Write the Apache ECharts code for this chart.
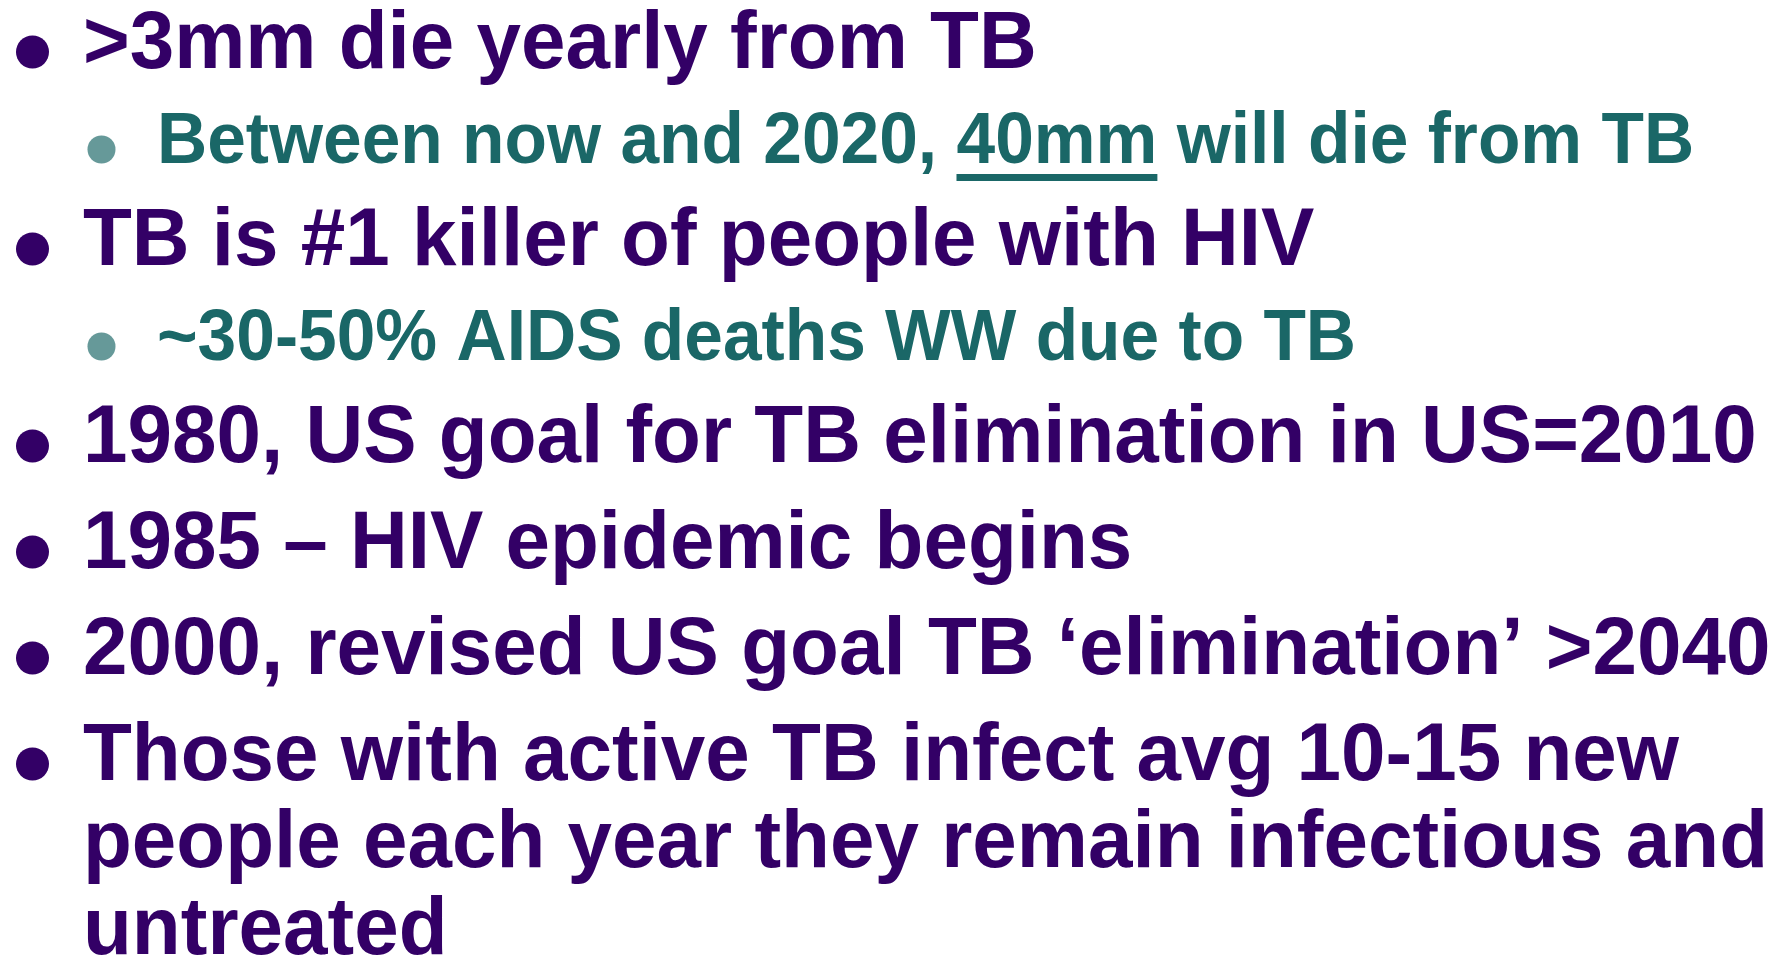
<!DOCTYPE html>
<html>
<head>
<meta charset="utf-8">
<title>TB facts</title>
<script src="https://cdn.jsdelivr.net/npm/echarts@6/dist/echarts.min.js"></script>
<style>
  html, body { margin: 0; padding: 0; background: #fff; }
  #main { width: 1790px; height: 955px; }
</style>
</head>
<body>
<div id="main"></div>
<script>
// slide content
const bulletTexts = [
  '>3mm die yearly from TB',
  'Between now and 2020, 40mm will die from TB',
  'TB is #1 killer of people with HIV',
  '~30-50% AIDS deaths WW due to TB',
  '1980, US goal for TB elimination in US=2010',
  '1985 \u2013 HIV epidemic begins',
  '2000, revised US goal TB \u2018elimination\u2019 >2040',
  'Those with active TB infect avg 10-15 new\npeople each year they remain infectious and\nuntreated'
];
const bulletLevels = [0, 1, 0, 1, 0, 0, 0, 0];
const underlinedWords = ['', '40mm', '', '', '', '', '', ''];

const FONT = '"Liberation Sans", Arial, sans-serif';
const mainSize = 80;
const subSize = 69.5;
const mainColor = '#330066';
const subColor = '#1a6767';
const subDotColor = '#669999';

const chart = echarts.init(document.getElementById('main'));

// text measuring for the underline
const ctx = document.createElement('canvas').getContext('2d');
function textWidth(str, size) {
  ctx.font = 'bold ' + size + 'px ' + FONT;
  return ctx.measureText(str).width;
}

const MID = 0.3465; // canvas 'middle' baseline offset in em
const STRETCH = 1.03; // glyphs a little taller than wide in the original
const elements = [];
let baseline = 74;
let prevLevel = null;
bulletTexts.forEach((text, i) => {
  const level = bulletLevels[i];
  if (prevLevel !== null) {
    if (level === 1) baseline += 94;
    else if (prevLevel === 1) baseline += 103;
    else baseline += 106;
  }
  const size = level === 0 ? mainSize : subSize;
  const x = level === 0 ? 83 : 157;
  const color = level === 0 ? mainColor : subColor;

  // bullet dot
  elements.push({
    type: 'circle',
    shape: level === 0
      ? { cx: 32.5, cy: baseline - 22, r: 16.5 }
      : { cx: 101.5, cy: baseline - 18.5, r: 14 },
    style: { fill: level === 0 ? mainColor : subDotColor }
  });

  const rows = text.split('\n');
  rows.forEach((row, j) => {
    const b = baseline + j * 87;
    elements.push({
      type: 'text',
      x: x,
      y: b - MID * size,
      originX: 0,
      originY: MID * size,
      scaleY: STRETCH,
      style: {
        text: row,
        fill: color,
        font: 'bold ' + size + 'px ' + FONT,
        textAlign: 'left',
        verticalAlign: 'middle'
      }
    });
  });

  const word = underlinedWords[i];
  if (word) {
    const pos = text.indexOf(word);
    const x0 = x + textWidth(text.slice(0, pos), size);
    const w = textWidth(word, size);
    elements.push({
      type: 'rect',
      shape: { x: x0, y: baseline + 6, width: w, height: 7 },
      style: { fill: color }
    });
  }
  baseline += (rows.length - 1) * 87;
  prevLevel = level;
});

chart.setOption({
  backgroundColor: '#ffffff',
  animation: false,
  graphic: { elements: elements }
});
</script>
</body>
</html>
